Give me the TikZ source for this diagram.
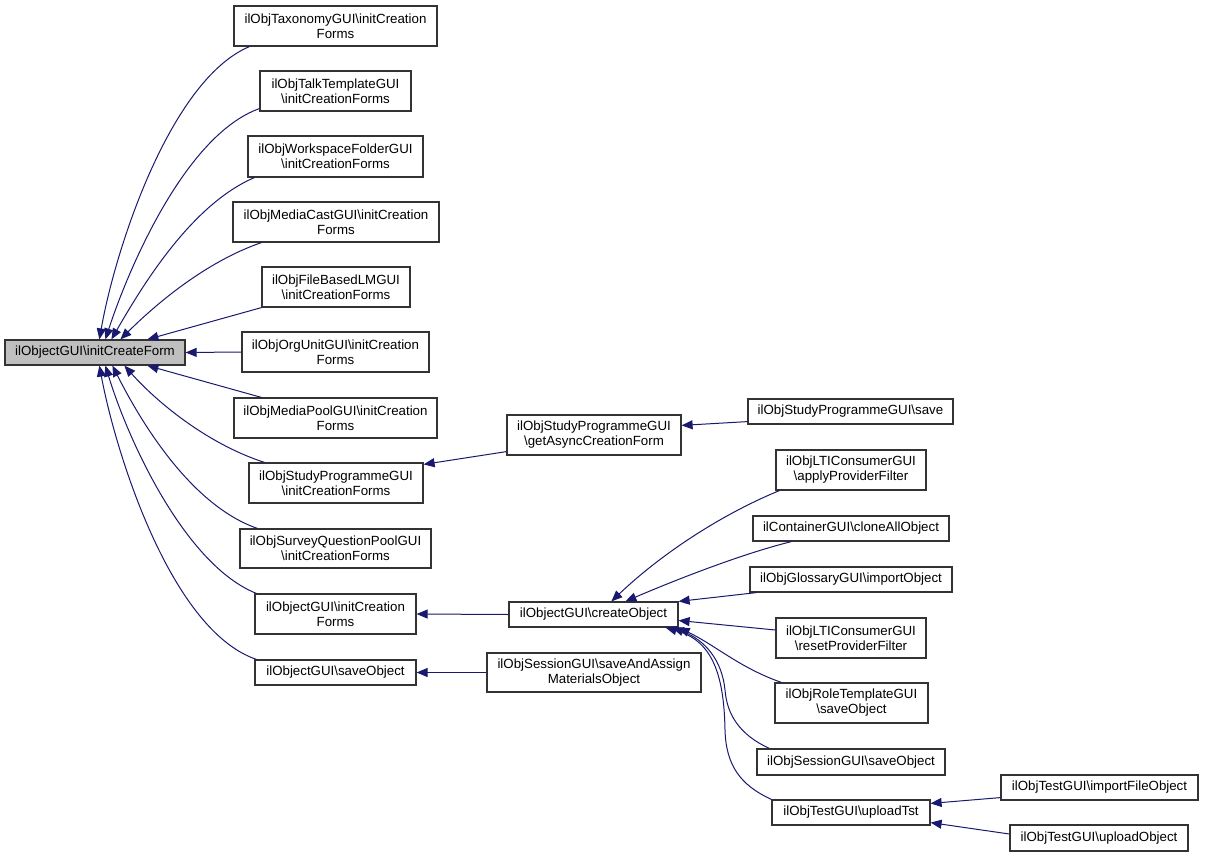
\documentclass[tikz,border=0pt]{standalone}
\usepackage{fontspec}
\setmainfont{Liberation Sans}
\usetikzlibrary{arrows.meta}
\definecolor{edgecol}{HTML}{191970}
\definecolor{mainfill}{HTML}{BFBFBF}
\tikzset{
  box/.style={draw=black!80, line width=1.2pt, inner sep=0pt, align=center,
    font=\fontsize{13.3}{15}\selectfont, fill=white},
  edge/.style={draw=edgecol, line width=1pt, -{Triangle[length=11pt,width=9pt]}},
}
\newcommand\gnode[7][]{%
  \node[box,#1, minimum width={(#5-#3)*1pt}, minimum height={(#6-#4)*1pt}]
    (#2) at ({(#3+#5)/2},{(#4+#6)/2}) {#7};}
\begin{document}
\begin{tikzpicture}[x=1pt,y=-1pt]
\useasboundingbox[fill=white] (0,0) rectangle (1205,857);
% nodes
\gnode[fill=mainfill]{main}{5}{340}{185}{365}{ilObjectGUI\textbackslash initCreateForm}
\gnode{tax}{234}{6}{437}{46}{ilObjTaxonomyGUI\textbackslash initCreation\\Forms}
\gnode{talk}{260}{71}{411}{111}{ilObjTalkTemplateGUI\\\textbackslash initCreationForms}
\gnode{ws}{248}{136}{423}{177}{ilObjWorkspaceFolderGUI\\\textbackslash initCreationForms}
\gnode{mc}{233}{202}{439}{242}{ilObjMediaCastGUI\textbackslash initCreation\\Forms}
\gnode{fb}{262}{267}{410}{307}{ilObjFileBasedLMGUI\\\textbackslash initCreationForms}
\gnode{org}{242}{332}{429}{372}{ilObjOrgUnitGUI\textbackslash initCreation\\Forms}
\gnode{mp}{234}{398}{437}{438}{ilObjMediaPoolGUI\textbackslash initCreation\\Forms}
\gnode{sp}{249}{463}{423}{503}{ilObjStudyProgrammeGUI\\\textbackslash initCreationForms}
\gnode{sq}{240}{529}{431}{568}{ilObjSurveyQuestionPoolGUI\\\textbackslash initCreationForms}
\gnode{icf}{255}{594}{416}{634}{ilObjectGUI\textbackslash initCreation\\Forms}
\gnode{so}{255}{660}{416}{685}{ilObjectGUI\textbackslash saveObject}
\gnode{async}{507}{415}{681}{455}{ilObjStudyProgrammeGUI\\\textbackslash getAsyncCreationForm}
\gnode{create}{509}{602}{678}{627}{ilObjectGUI\textbackslash createObject}
\gnode{saa}{487}{653}{701}{692}{ilObjSessionGUI\textbackslash saveAndAssign\\MaterialsObject}
\gnode{spsave}{748}{399}{953}{424}{ilObjStudyProgrammeGUI\textbackslash save}
\gnode{apf}{776}{450}{926}{490}{ilObjLTIConsumerGUI\\\textbackslash applyProviderFilter}
\gnode{clone}{753}{516}{949}{541}{ilContainerGUI\textbackslash cloneAllObject}
\gnode{gloss}{750}{567}{952}{592}{ilObjGlossaryGUI\textbackslash importObject}
\gnode{rpf}{776}{618}{926}{658}{ilObjLTIConsumerGUI\\\textbackslash resetProviderFilter}
\gnode{role}{775}{683}{928}{723}{ilObjRoleTemplateGUI\\\textbackslash saveObject}
\gnode{sess}{757}{749}{945}{775}{ilObjSessionGUI\textbackslash saveObject}
\gnode{tst}{772}{800}{930}{825}{ilObjTestGUI\textbackslash uploadTst}
\gnode{ifo}{1001}{775}{1198}{800}{ilObjTestGUI\textbackslash importFileObject}
\gnode{uo}{1010}{825}{1188}{851}{ilObjTestGUI\textbackslash uploadObject}
% edges into main (top)
\draw[edge] ([xshift=16pt]tax.south west) .. controls (170,80) and (115,250) .. ([xshift=95pt]main.north west);
\draw[edge] ([yshift=3pt]talk.south west) .. controls (185,135) and (128,270) .. ([xshift=101pt]main.north west);
\draw[edge] ([xshift=7pt]ws.south west) .. controls (190,205) and (140,290) .. ([xshift=107pt]main.north west);
\draw[edge] ([xshift=29pt]mc.south west) .. controls (205,262) and (155,305) .. ([xshift=116pt]main.north west);
\draw[edge] (fb.south west) -- ([xshift=143pt]main.north west);
\draw[edge] (org.west) -- (main.east);
% edges into main (bottom)
\draw[edge] ([xshift=28pt]mp.north west) -- ([xshift=143pt]main.south west);
\draw[edge] ([xshift=16pt]sp.north west) .. controls (205,443) and (155,400) .. ([xshift=120pt]main.south west);
\draw[edge] ([xshift=18pt]sq.north west) .. controls (190,505) and (140,420) .. ([xshift=108pt]main.south west);
\draw[edge] ([xshift=2pt]icf.north west) .. controls (185,565) and (128,440) .. ([xshift=101pt]main.south west);
\draw[edge] ([xshift=2pt]so.north west) .. controls (170,630) and (115,450) .. ([xshift=95pt]main.south west);
% right part
\draw[edge] ([yshift=4pt]async.south west) -- ([yshift=-2pt]sp.north east);
\draw[edge] ([yshift=3pt]spsave.south west) -- ([yshift=-11pt]async.north east);
\draw[edge] (create.west) -- (icf.east);
\draw[edge] (saa.west) -- (so.east);
\draw[edge] ([xshift=4pt]apf.south west) .. controls (720,515) and (660,555) .. ([xshift=103pt]create.north west);
\draw[edge] ([xshift=39pt]clone.south west) .. controls (745,553) and (680,578) .. ([xshift=117pt]create.north west);
\draw[edge] ([xshift=7pt]gloss.south west) -- (create.north east);
\draw[edge] ([yshift=8pt]rpf.west) -- ([yshift=-6pt]create.east);
\draw[edge] ([xshift=7pt]role.north west) .. controls (740,668) and (715,645) .. (create.south east);
\draw[edge] ([xshift=13pt]sess.north west) .. controls (740,735) and (727,715) .. (725,690) .. controls (722,660) and (705,640) .. ([xshift=-6pt]create.south east);
\draw[edge] (tst.north west) .. controls (740,785) and (726,765) .. (725,730) .. controls (724,670) and (710,640) .. ([xshift=-13pt]create.south east);
\draw[edge] ([yshift=3pt]ifo.south west) -- ([yshift=-4pt]tst.north east);
\draw[edge] ([yshift=4pt]uo.west) -- ([yshift=3pt]tst.south east);
\end{tikzpicture}
\end{document}
